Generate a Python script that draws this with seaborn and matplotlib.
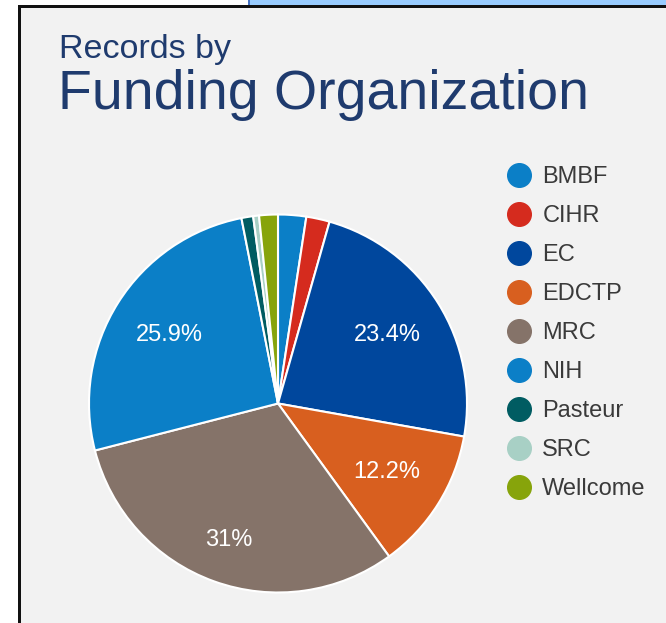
import matplotlib
matplotlib.use("Agg")
import matplotlib.pyplot as plt
import numpy as np
import seaborn as sns
from matplotlib.lines import Line2D
from matplotlib.patches import Rectangle

# Data (percent of records)
orgs = ["BMBF", "CIHR", "EC", "EDCTP", "MRC", "NIH", "Pasteur", "SRC", "Wellcome"]
shares = [2.4, 2.0, 23.4, 12.2, 31.0, 25.9, 1.0, 0.5, 1.6]
colors = ["#0b7fc7", "#d52b1e", "#00479d", "#d85f1f", "#857369",
          "#0b7fc7", "#005c62", "#a8d0c5", "#87a40b"]

sns.set_theme(style="white")
plt.rcParams["font.family"] = ["Liberation Sans", "DejaVu Sans"]

W, H = 666, 623
fig = plt.figure(figsize=(W / 100, H / 100), dpi=100)
fig.patch.set_facecolor("white")

# screenshot frame: light blue tab at top, black border, grey panel
fig.patches.append(Rectangle((249 / W, 1 - 6 / H), 1, 6 / H, transform=fig.transFigure,
                             facecolor="#99ccff", edgecolor="none", zorder=0))
fig.patches.append(Rectangle((248 / W, 1 - 6 / H), 2 / W, 6 / H, transform=fig.transFigure,
                             facecolor="#4472c4", edgecolor="none", zorder=0))
fig.patches.append(Rectangle((18 / W, -0.01), 1, 1 - 4.5 / H + 0.01, transform=fig.transFigure,
                             facecolor="#111111", edgecolor="none", zorder=0))
fig.patches.append(Rectangle((21 / W, -0.01), 1, 1 - 7.5 / H + 0.01, transform=fig.transFigure,
                             facecolor="#f2f2f2", edgecolor="none", zorder=0))

# pie axes: centre (278, 403.5), radius 189 px
r = 189
ax = fig.add_axes([(278 - r) / W, (H - 403.5 - r) / H, 2 * r / W, 2 * r / H])
ax.set_facecolor("none")
ax.set_zorder(2)


def pct_label(p):
    return f"{round(p, 1):g}%" if p >= 5 else ""


wedges, _, autotexts = ax.pie(
    shares, colors=colors, startangle=90, counterclock=False,
    autopct=pct_label, pctdistance=0.68,
    wedgeprops=dict(edgecolor="white", linewidth=1.5),
    textprops=dict(color="white", fontsize=17),
)

# the big bottom slice has its label pushed further out
label_dist = {"MRC": 0.77}
for w, t, name in zip(wedges, autotexts, orgs):
    if name in label_dist:
        mid = np.deg2rad((w.theta1 + w.theta2) / 2)
        d = label_dist[name]
        t.set_position((d * np.cos(mid), d * np.sin(mid)))

ax.set_xlim(-1, 1)
ax.set_ylim(-1, 1)
ax.set_aspect("equal")
ax.axis("off")

# titles
fig.text(59 / W, 1 - 58 / H, "Records by", fontsize=24.5, color="#1f3b6e",
         va="baseline", zorder=3)
fig.text(58 / W, 1 - 109 / H, "Funding Organization", fontsize=40, color="#1f3b6e",
         va="baseline", zorder=3)

# legend
handles = [Line2D([], [], marker="o", linestyle="none", markersize=17,
                  markerfacecolor=c, markeredgecolor=c) for c in colors]
leg = fig.legend(handles, orgs, loc="upper left", bbox_to_anchor=(501 / W, 1 - 166 / H),
                 frameon=False, fontsize=17, labelcolor="#3a3a3a", borderpad=0,
                 handlelength=1.5, handletextpad=0.25, labelspacing=0.72, borderaxespad=0)
leg.set_zorder(3)

fig.savefig("out.png", dpi=100)
